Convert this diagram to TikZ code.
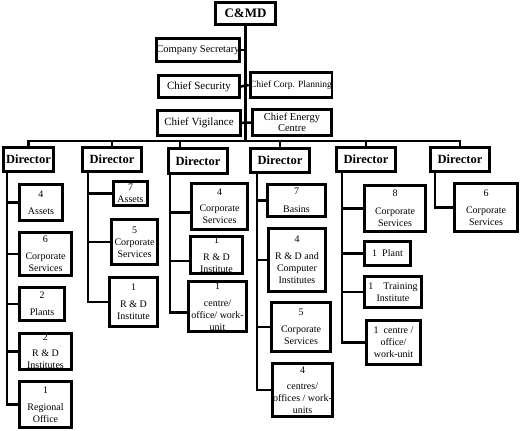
\documentclass[tikz,border=0pt]{standalone}
\usepackage{fontspec}
\setmainfont{Liberation Serif}
\begin{document}
\begin{tikzpicture}[x=1pt,y=-1pt,
  box/.style={draw, line width=2.8pt, inner sep=0pt, align=center, font=\fontsize{10}{12}\selectfont},
  topbox/.style={box, font=\fontsize{10.5}{11}\selectfont},
  dirbox/.style={box, font=\bfseries\fontsize{12.5}{14}\selectfont},
  link/.style={line width=2.5pt}]
\useasboundingbox (0,0) rectangle (520,431);
% top
\node[box, font=\bfseries\fontsize{13}{15}\selectfont, minimum width=60.2pt, minimum height=22.2pt] (cmd) at (245.5,13.5) {C\&MD};
\node[topbox, minimum width=81.2pt, minimum height=23.2pt] (sec) at (198,50) {Company Secretary};
\node[topbox, font=\fontsize{11}{12}\selectfont, minimum width=81.2pt, minimum height=22.2pt] (sy) at (199,86.5) {Chief Security};
\node[topbox, font=\fontsize{9.5}{11}\selectfont, minimum width=81.2pt, minimum height=25.2pt] (pl) at (291,85) {Chief Corp. Planning};
\node[topbox, font=\fontsize{11}{12}\selectfont, minimum width=83.2pt, minimum height=25.2pt] (vg) at (199,123) {Chief Vigilance};
\node[topbox, minimum width=79.2pt, minimum height=26.2pt] (en) at (292,122.5) {Chief Energy\\Centre};
\coordinate (bus) at (246,141);
\draw[link] (cmd.south) -- (cmd.south |- bus);
\draw[link] (sec.east) -- (sec.east -| bus);
\draw[link] (sy.east) -- (pl.west);
\draw[link] (vg.east) -- (en.west);
% directors
\node[dirbox, minimum width=50.2pt, minimum height=24.2pt] (d1) at (28.5,159.5) {Director};
\node[dirbox, minimum width=59.2pt, minimum height=24.2pt] (d2) at (112,159.5) {Director};
\node[dirbox, minimum width=59.2pt, minimum height=25.2pt] (d3) at (198,161) {Director};
\node[dirbox, minimum width=59.2pt, minimum height=24.2pt] (d4) at (280,160.5) {Director};
\node[dirbox, minimum width=59.2pt, minimum height=24.2pt] (d5) at (366,159.5) {Director};
\node[dirbox, minimum width=59.2pt, minimum height=24.2pt] (d6) at (460,159.5) {Director};
\draw[link] (d1.north) |- (bus) -| (d6.north);
\draw[link] (d2.north) -- (d2.north |- bus);
\draw[link] ([xshift=-18pt]d3.north) -- ([xshift=-18pt]d3.north |- bus);
\draw[link] (d4.north) -- (d4.north |- bus);
\draw[link] (d5.north) -- (d5.north |- bus);
% spines
\coordinate (s1) at (7,172);
\coordinate (s2) at (88,172);
\coordinate (s3) at (170,174);
\coordinate (s4) at (257,173);
\coordinate (s5) at (342,172);
\coordinate (s6) at (435,172);
% D1 children
\node[box, minimum width=43.2pt, minimum height=36.2pt] (a1) at (41,202.5) {4\\[5pt]Assets};
\node[box, minimum width=52.2pt, minimum height=43.2pt] (a2) at (45.5,254) {6\\[5pt]Corporate\\Services};
\node[box, minimum width=45.2pt, minimum height=33.2pt] (a3) at (42,304) {2\\[5pt]Plants};
\node[box, minimum width=52.2pt, minimum height=36.2pt] (a4) at (45.5,351.5) {2\\[4pt]R \& D\\Institutes};
\node[box, minimum width=52.2pt, minimum height=46.2pt] (a5) at (45.5,404.5) {1\\[5pt]Regional\\Office};
\foreach \c in {a1,a2,a3,a4,a5} \draw[link] (s1) |- (\c.west);
% D2 children
\node[box, minimum width=34.2pt, minimum height=24.2pt] (b1) at (130.5,193.5) {7\\Assets};
\node[box, minimum width=46.2pt, minimum height=45.2pt] (b2) at (134.5,242) {5\\Corporate\\Services};
\node[box, minimum width=48.2pt, minimum height=49.2pt] (b3) at (133.5,302) {1\\[5pt]R \& D\\Institute};
\foreach \c in {b1,b2,b3} \draw[link] (s2) |- (\c.west);
% D3 children
\node[box, minimum width=56.2pt, minimum height=46.2pt] (c1) at (219.5,206.5) {4\\[4pt]Corporate\\Services};
\node[box, minimum width=52.2pt, minimum height=37.2pt] (c2) at (216.5,255) {1\\[5pt]R \& D\\Institute};
\node[box, minimum width=58.2pt, minimum height=50.2pt] (c3) at (217.5,306.5) {1\\[5pt]centre/\\office/ work-\\unit};
\foreach \c in {c1,c2,c3} \draw[link] (s3) |- ([yshift=-6pt]\c.west);
% D4 children
\node[box, minimum width=58.2pt, minimum height=32.2pt] (e1) at (296.5,200.5) {7\\[6pt]Basins};
\node[box, minimum width=57.2pt, minimum height=63.2pt] (e2) at (297,260) {4\\[5pt]R \& D and\\Computer\\Institutes};
\node[box, minimum width=59.2pt, minimum height=49.2pt] (e3) at (301,327) {5\\[5pt]Corporate\\Services};
\node[box, minimum width=60.2pt, minimum height=53.2pt] (e4) at (302.5,390) {4\\[4pt]centres/\\offices / work-\\units};
\foreach \c in {e1,e2,e3,e4} \draw[link] (s4) |- (\c.west);
% D5 children
\node[box, minimum width=61.2pt, minimum height=46.2pt] (f1) at (395,208.5) {8\\[6pt]Corporate\\Services};
\node[box, minimum width=46.2pt, minimum height=24.2pt] (f2) at (387.5,253.5) {1\enspace Plant};
\node[box, minimum width=57.2pt, minimum height=31.2pt] (f3) at (393,292) {1\quad Training\\Institute};
\node[box, minimum width=54.2pt, minimum height=44.2pt] (f4) at (393.5,342.5) {1\enspace centre /\\office/\\work-unit};
\foreach \c in {f1,f2,f3,f4} \draw[link] (s5) |- (\c.west);
% D6 child
\node[box, minimum width=63.2pt, minimum height=48.2pt] (g1) at (486,207.5) {6\\[5pt]Corporate\\Services};
\draw[link] (s6) |- (g1.west);
\end{tikzpicture}
\end{document}
